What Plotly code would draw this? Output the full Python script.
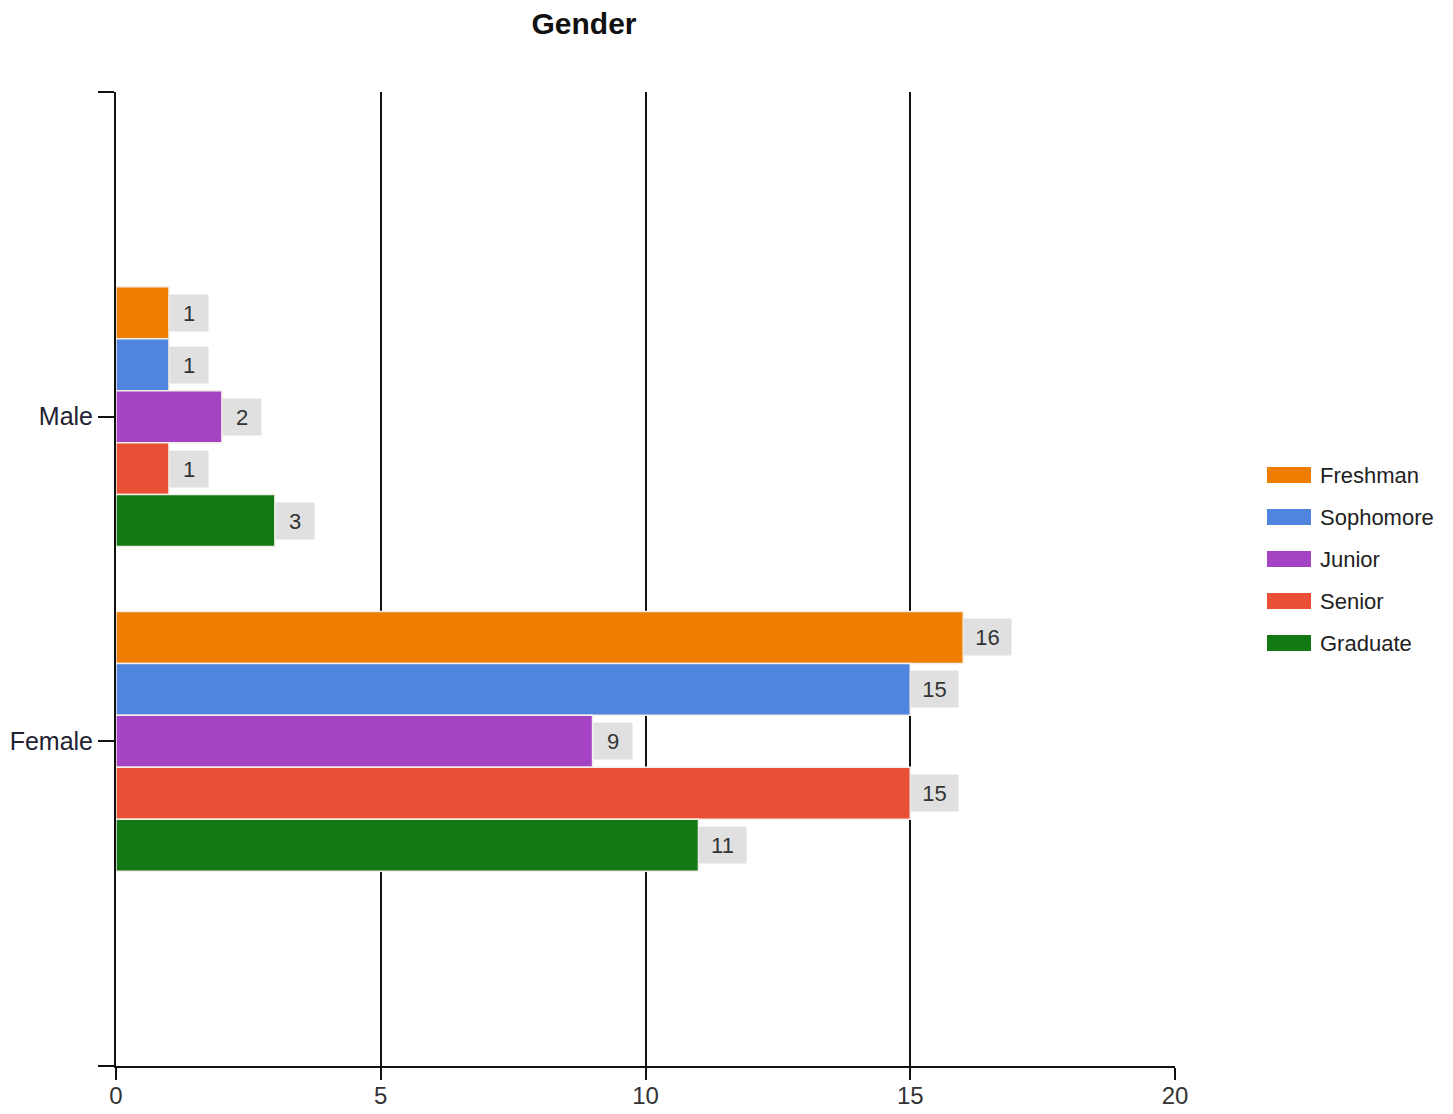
import plotly.graph_objects as go

# Horizontal grouped bar chart: student counts by class year within each gender
genders = ["Male", "Female"]
gender_pos = [1, 2]
class_years = ["Freshman", "Sophomore", "Junior", "Senior", "Graduate"]
counts = {
    "Freshman": [1, 16],
    "Sophomore": [1, 15],
    "Junior": [2, 9],
    "Senior": [1, 15],
    "Graduate": [3, 11],
}
colors = {
    "Freshman": "#ef7d00",
    "Sophomore": "#4f85de",
    "Junior": "#a443c4",
    "Senior": "#e94f35",
    "Graduate": "#137914",
}
x_ticks = [0, 5, 10, 15, 20]

FONT = "Liberation Sans, Arial, sans-serif"
W, H = 1453, 1114
M_L, M_R, M_T, M_B = 116, 278, 92, 48
PLOT_W = W - M_L - M_R
PLOT_H = H - M_T - M_B
BARGAP = 0.2
slot = (1 - BARGAP) / len(class_years)


def px_x(px):
    return (px - M_L) / PLOT_W


def px_y(py):
    return (H - M_B - py) / PLOT_H


fig = go.Figure()
annotations = []
shapes = []
for i, year in enumerate(class_years):
    fig.add_trace(go.Bar(
        y=gender_pos,
        x=counts[year],
        orientation="h",
        name=year,
        marker=dict(color=colors[year], line=dict(color="#f4eee8", width=1.5)),
        showlegend=False,
        hoverinfo="x+name",
    ))
    # value labels in grey boxes at the end of each bar
    for g, v in zip(gender_pos, counts[year]):
        label = str(v)
        annotations.append(dict(
            x=v, y=g + (i - (len(class_years) - 1) / 2) * slot,
            xref="x", yref="y",
            text=label, showarrow=False,
            xanchor="left", yanchor="middle", xshift=0,
            width=36 if len(label) == 1 else 45, height=34,
            align="center", valign="middle",
            bgcolor="#e0e0e0",
            font=dict(family=FONT, size=22, color="#333333"),
        ))
    # legend entry: wide colour swatch plus label
    yc = 475 + 42 * i
    shapes.append(dict(
        type="rect", xref="paper", yref="paper",
        x0=px_x(1267), x1=px_x(1311), y0=px_y(yc + 8), y1=px_y(yc - 8),
        fillcolor=colors[year], line=dict(width=0),
    ))
    annotations.append(dict(
        x=px_x(1318), y=px_y(yc), xref="paper", yref="paper",
        text=year, showarrow=False, xanchor="left", yanchor="middle",
        font=dict(family=FONT, size=22, color="#222222"),
    ))

fig.update_layout(
    width=W, height=H,
    margin=dict(l=M_L, r=M_R, t=M_T, b=M_B),
    paper_bgcolor="white", plot_bgcolor="white",
    barmode="group", bargap=BARGAP, bargroupgap=0,
    showlegend=False,
    title=dict(text="<b>Gender</b>", x=584 / W, xref="container", xanchor="center",
               y=1 - 23 / H, yref="container", yanchor="middle",
               font=dict(family=FONT, size=30, color="#111111")),
    font=dict(family=FONT, size=25, color="#222222"),
    xaxis=dict(
        range=[0, 20], tickvals=x_ticks, showgrid=True, gridcolor="#111111", gridwidth=2,
        showline=True, linecolor="#111111", linewidth=2, zeroline=False,
        ticks="outside", ticklen=12, tickwidth=2, tickcolor="#111111",
        tickfont=dict(family=FONT, size=24, color="#333333"),
        ticklabelstandoff=-5,
        automargin=False,
    ),
    yaxis=dict(
        range=[3, 0], tickvals=[0, 1, 2, 3], ticktext=["", "Male", "Female", ""],
        showgrid=False, zeroline=False, showline=True, linecolor="#111111", linewidth=2,
        ticks="outside", ticklen=16, tickwidth=2, tickcolor="#111111",
        tickfont=dict(family=FONT, size=25, color="#222233"),
        automargin=False,
    ),
    shapes=shapes,
    annotations=annotations,
)

fig.write_html("out.html")
